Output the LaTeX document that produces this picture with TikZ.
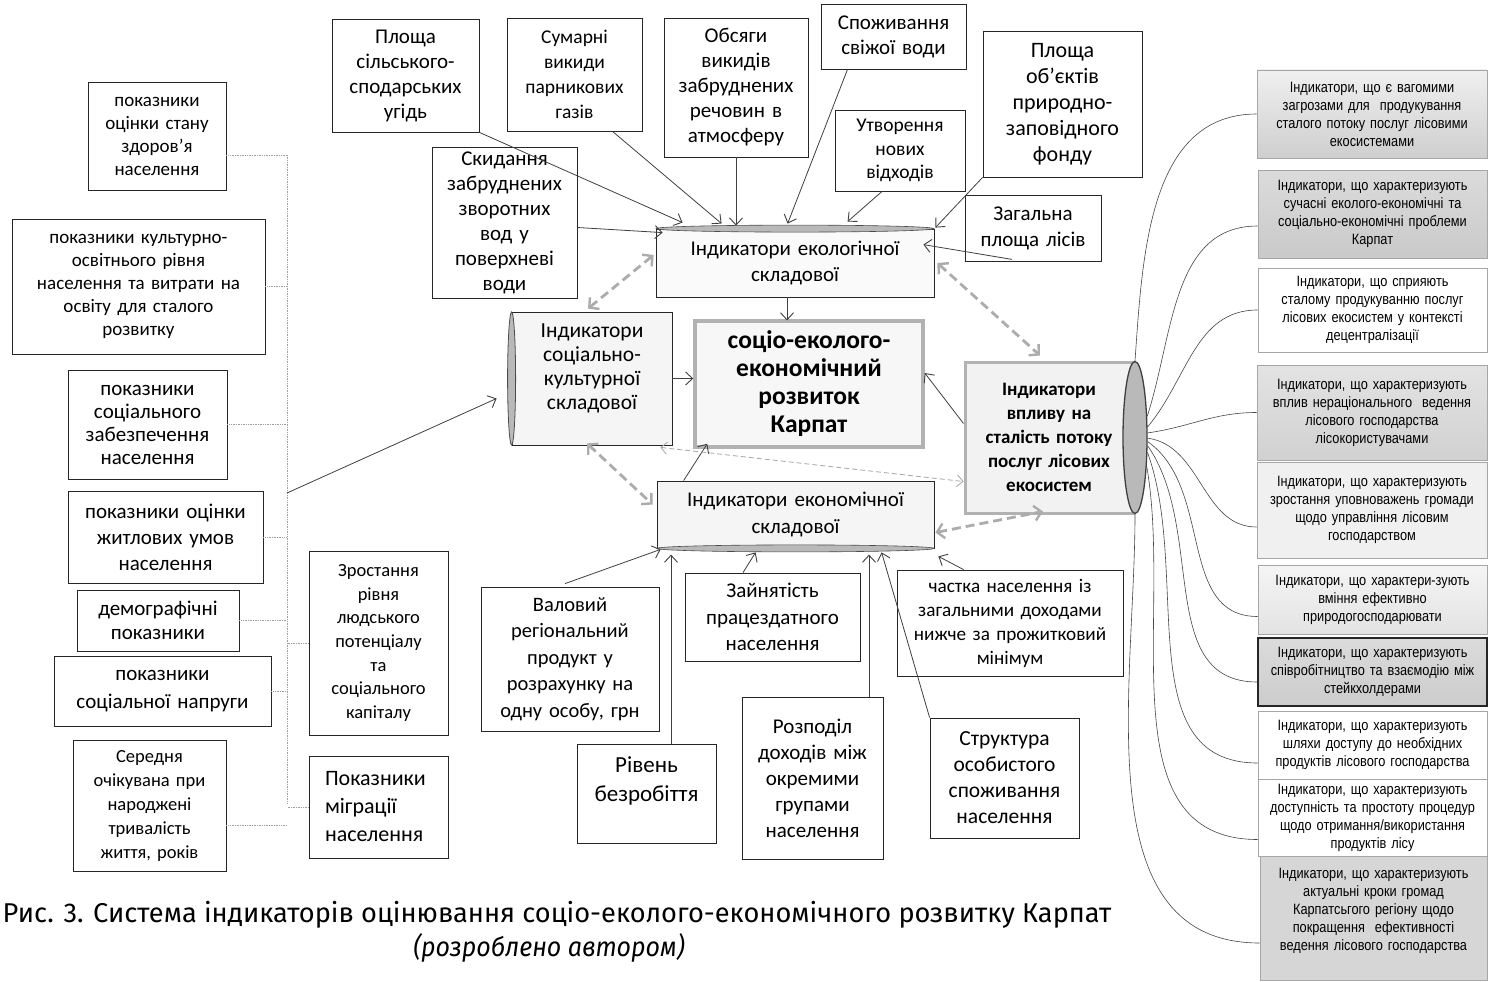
\documentclass[tikz,border=0pt]{standalone}
\usepackage{fontspec}
\setmainfont{Carlito}
\newfontfamily\narrowf{Liberation Sans}[FakeStretch=0.85]
\newfontfamily\capf{Fira Sans}
\newfontfamily\capfi{Fira Sans}[FakeStretch=0.92]
\usetikzlibrary{arrows.meta,shapes.geometric,calc}
\newcommand\fs[2]{\fontsize{#1}{#2}\selectfont}
\newcommand\bx[7][]{%
  \pgfmathsetmacro\bxw{#5-#3}\pgfmathsetmacro\bxh{#6-#4}%
  \pgfmathsetmacro\bxt{#5-#3-6}%
  \pgfmathsetmacro\bxx{(#3+#5)/2}\pgfmathsetmacro\bxy{(#4+#6)/2}%
  \node[box,minimum width=\bxw pt,minimum height=\bxh pt,text width=\bxt pt,#1] (#2) at (\bxx,\bxy) {#7};}
\tikzset{
  box/.style={draw=black!85,line width=0.8pt,fill=white,inner sep=0pt,align=center,
    font=\fs{21}{25}},
  rbox/.style={draw=gray!70,line width=0.7pt,font=\narrowf\fs{15}{18}},
  arr/.style={draw=black!75,line width=0.8pt,-{Straight Barb[length=7pt,width=13pt,line width=0.9pt]}},
  darr/.style={draw=gray!65,line width=2.8pt,dash pattern=on 9pt off 5pt,
    {Straight Barb[length=7pt,width=15pt,line width=2.4pt]}-{Straight Barb[length=7pt,width=15pt,line width=2.4pt]}},
  tdarr/.style={draw=gray!70,line width=0.8pt,dash pattern=on 5pt off 3pt,
    {Straight Barb[length=6pt,width=12pt,line width=0.8pt]}-{Straight Barb[length=6pt,width=12pt,line width=0.8pt]}},
  dot/.style={draw=gray!75,line width=0.7pt,densely dotted},
  curve/.style={draw=gray!55!black,line width=0.6pt},
}
\begin{document}
\begin{tikzpicture}[x=1pt,y=-1pt]
\useasboundingbox (0,0) rectangle (1488,982);
\fill[white] (0,0) rectangle (1488,982);
% ---------- left column ----------
\bx[font=\fs{19}{23}]{L1}{88}{82}{226}{190}{показники\\оцінки стану\\здоров'я\\населення}
\bx[font=\fs{19}{23}]{L2}{12}{219}{265}{354}{показники культурно-\\освітнього рівня\\населення та витрати на\\освіту для сталого\\розвитку}
\bx[font=\fs{21}{23}]{L3}{68}{370}{227}{479}{показники\\соціального\\забезпечення\\населення}
\bx[font=\fs{21}{26}]{L4}{68}{491}{263}{583}{показники оцінки\\житлових умов\\населення}
\bx[font=\fs{21}{24}]{L5}{77}{590}{239}{651}{демографічні\\показники}
\bx[font=\fs{21}{28}]{L6}{54}{656}{271}{726}{показники\\соціальної напруги}
\bx[font=\fs{18.5}{24}]{L7}{73}{740}{226}{871}{Середня\\очікувана при\\народжені\\тривалість\\життя, років}
\bx[font=\fs{18.5}{23.7}]{L8}{309}{551}{448}{735}{Зростання\\рівня\\людського\\потенціалу\\та\\соціального\\капіталу}
\bx[font=\fs{22}{28},align=left,text width=107pt]{L9}{309}{756}{448}{858}{Показники\\міграції\\населення}
\coordinate (busT) at (287,155);
\coordinate (busB) at (287,803);
\coordinate (busM) at (287,493);
\draw[dot] (busT) -- (busB);
\draw[dot] ([yshift=-19pt]L1.east) -- ([yshift=-19pt]L1.east -| busT);
\foreach \n in {L2,L3,L4,L5,L6}{\draw[dot] (\n.east) -- (\n.east -| busT);}
\draw[dot] ([yshift=-20pt]L7.east) -- ([yshift=-20pt]L7.east -| busT);
\draw[dot] (L8.west) -- (L8.west -| busT);
\draw[dot] (L9.west) -- (L9.west -| busT);
% ---------- top boxes ----------
\bx{T10}{332}{19}{479}{132}{Площа\\сільського-\\сподарських\\угідь}
\bx[font=\fs{19.5}{25}]{T11}{507}{18}{642}{131}{Сумарні\\викиди\\парникових\\газів}
\bx{T12}{664}{18}{808}{157}{Обсяги\\викидів\\забруднених\\речовин в\\атмосферу}
\bx{T13}{432}{147}{577}{298}{Скидання\\забруднених\\зворотних\\вод у\\поверхневі\\води}
\bx{T14}{821}{4}{966}{69}{Споживання\\свіжої води}
\bx[font=\fs{19.5}{23.5}]{T15}{835}{110}{965}{191}{Утворення\\нових\\відходів}
\bx[font=\fs{22}{26}]{T16}{983}{31}{1142}{177}{Площа\\об'єктів\\природно-\\заповідного\\фонду}
\bx[font=\fs{21}{26}]{T17}{965}{195}{1101}{261}{Загальна\\площа лісів}
% ---------- central ----------
\bx[fill=gray!4,font=\fs{21}{26}]{eco}{656}{229}{934}{297}{Індикатори екологічної\\складової}
\draw[fill=gray!55,draw=black!70,line width=0.6pt] (eco.north) ellipse [x radius=139pt,y radius=3.5pt];
\bx[fill=gray!8,font=\fs{21.5}{24}]{LC}{512}{312}{672}{445}{Індикатори\\соціально-\\культурної\\складової\\[0pt]\mbox{}}
\draw[fill=gray!55,draw=black!70,line width=0.8pt] (LC.west) ellipse [x radius=4pt,y radius=66.5pt];
\bx[fill=gray!6,draw=gray!60,line width=3.5pt,font=\bfseries\fs{25.5}{28}]{cen}{695}{321}{923}{447}{соціо-еколого-\\економічний\\розвиток\\Карпат}
\bx[fill=gray!8,font=\fs{21}{26.5}]{econ}{657}{481}{934}{548}{Індикатори економічної\\складової}
\draw[fill=gray!55,draw=black!70,line width=0.6pt] (econ.south) ellipse [x radius=138.5pt,y radius=3.5pt];
\bx[fill=gray!10,draw=gray!60,line width=3pt,font=\bfseries\fs{19}{24}]{RB}{965}{362}{1133}{513}{Індикатори\\впливу на\\сталість потоку\\послуг лісових\\екосистем}
\node[ellipse,minimum width=24pt,minimum height=152pt,inner sep=0pt,fill=gray!55,draw=black!75,line width=1.3pt] (RE) at (1135,437.5) {};
% ---------- bottom ----------
\bx[font=\fs{20.5}{26.5}]{Val}{481}{587}{659}{731}{Валовий\\регіональний\\продукт у\\розрахунку на\\одну особу, грн}
\bx[font=\fs{23}{29}]{Riv}{577}{744}{716}{843}{Рівень\\безробіття\\[0pt]\mbox{}}
\bx[font=\fs{21}{26.5}]{Zay}{685}{573}{860}{661}{Зайнятість\\працездатного\\населення}
\bx[font=\fs{21}{26}]{Roz}{742}{697}{883}{859}{Розподіл\\доходів між\\окремими\\групами\\населення}
\bx[font=\fs{19.2}{24}]{Cha}{897}{570}{1123}{676}{частка населення із\\загальними доходами\\нижче за прожитковий\\мінімум}
\bx[font=\fs{21.5}{26}]{Str}{930}{718}{1079}{838}{Структура\\особистого\\споживання\\населення}
% ---------- right column ----------
\bx[rbox,top color=gray!12,bottom color=gray!38]{R1}{1257}{70}{1487}{158}{Індикатори, що є вагомими\\загрозами для\ \ продукування\\сталого потоку послуг лісовими\\екосистемами}
\bx[rbox,top color=gray!28,bottom color=gray!42]{R2}{1258}{170}{1487}{258}{Індикатори, що характеризують\\сучасні еколого-економічні та\\соціально-економічні проблеми\\Карпат}
\bx[rbox]{R3}{1258}{268}{1487}{352}{Індикатори, що сприяють\\сталому продукуванню послуг\\лісових екосистем у контексті\\децентралізації}
\bx[rbox,top color=gray!22,bottom color=gray!36]{R4}{1257}{365}{1487}{460}{Індикатори, що характеризують\\вплив нераціонального\ \ ведення\\лісового господарства\\лісокористувачами}
\bx[rbox,fill=gray!12]{R5}{1257}{462}{1487}{558}{Індикатори, що характеризують\\зростання уповноважень громади\\щодо управління лісовим\\господарством}
\bx[rbox,top color=gray!8,bottom color=gray!22]{R6}{1258}{565}{1487}{634}{Індикатори, що характери-зують\\вміння ефективно\\природогосподарювати}
\bx[rbox,top color=gray!28,bottom color=gray!40,draw=black!85,line width=1.5pt]{R7}{1258}{638}{1487}{706}{Індикатори, що характеризують\\співробітництво та взаємодію між\\стейкхолдерами}
\bx[rbox]{R8}{1258}{711}{1487}{779}{Індикатори, що характеризують\\шляхи доступу до необхідних\\продуктів лісового господарства}
\bx[rbox]{R9}{1258}{779}{1487}{856}{Індикатори, що характеризують\\доступність та простоту процедур\\щодо отримання/використання\\продуктів лісу}
\bx[rbox,fill=gray!32]{R10}{1260}{856}{1487}{980}{Індикатори, що характеризують\\актуальні кроки громад\\Карпатсьгого регіону щодо\\покращення\ \ ефективності\\ведення лісового господарства\\[0pt]\mbox{}}
% ---------- curves to right column ----------
\draw[curve] (RE.north) to[out=86,in=180] (R1.west);
\draw[curve] (RE.60) to[out=72,in=180] ([yshift=-12pt]R2.west);
\draw[curve] (RE.40) to[out=50,in=180] (R3.west);
\draw[curve] (RE.20) to[out=8,in=180] (R4.west);
\draw[curve] (RE.-3) to[out=-8,in=180] ([yshift=-17pt]R5.west);
\draw[curve] (RE.-18) to[out=-35,in=180] ([yshift=-17pt]R6.west);
\draw[curve] (RE.-33) to[out=-55,in=180] ([yshift=-10pt]R7.west);
\draw[curve] (RE.-50) to[out=-70,in=180] ([yshift=-18pt]R8.west);
\draw[curve] (RE.-68) to[out=-80,in=180] ([yshift=-22pt]R9.west);
\draw[curve] (RE.south) to[out=-90,in=180] ([yshift=-25pt]R10.west);
% ---------- arrows into eco ----------
\draw[arr] (T10.south east) -- ($(eco.north west)+(27,-6)$);
\draw[arr] ([yshift=-5pt]T13.east) -- ($(eco.north west)+(7,4)$);
\draw[arr] ($(T11.south)+(38,0)$) -- ($(eco.north west)+(66,-5)$);
\draw[arr] (T12.south) -- ($(T12.south |- eco.north)+(0,-3)$);
\draw[arr] ($(T14.south)+(-46,0)$) -- ($(eco.north west)+(132,-5)$);
\draw[arr] ($(T15.south)+(-18,0)$) -- ($(eco.north west)+(192,-7)$);
\draw[arr] (T16.south west) -- ($(eco.north east)+(1,-1)$);
\draw[arr] ($(T17.south)+(-21,-2)$) -- ($(eco.north east)+(-11,16)$);
% ---------- arrows into centre ----------
\draw[arr] ($(eco.south)+(-8,0)$) -- ($(eco.south)+(-8,23)$);
\draw[arr] (LC.east) -- (LC.east -| cen.west);
\draw[arr] ($(econ.north west)+(27,0)$) -- ($(cen.south west)+(14,-5)$);
\draw[arr] ($(RB.west)+(0,-14)$) -- ($(cen.east)+(0,-11)$);
\draw[arr] (busM) -- ($(LC.west)+(-15,20)$);
% ---------- dashed links ----------
\draw[darr] ($(LC.north)+(-4,-3)$) -- ($(eco.west)+(-2,-8)$);
\draw[darr] ($(eco.east)+(3,0)$) -- ($(RB.north)+(-9,-5)$);
\draw[darr] ($(LC.south)+(-5,-2)$) -- ($(econ.west)+(-4,-10)$);
\draw[darr] ($(econ.east)+(1,18)$) -- ($(RB.south)+(-6,-3)$);
\draw[tdarr] ($(LC.south east)+(-12,2)$) -- ($(RB.west)+(0,44)$);
% ---------- arrows into econ ----------
\draw[arr] ($(Val.north)+(-5,-3)$) -- ($(econ.south west)+(4,1)$);
\draw[arr] ($(Riv.north)+(24.5,0)$) -- ($(Riv.north)+(24.5,-189)$);
\draw[arr] ($(Zay.north)+(-29.5,0)$) -- ($(econ.south west)+(99,4)$);
\draw[arr] ($(Roz.north)+(56.5,0)$) -- ($(Roz.north)+(56.5,-142)$);
\draw[arr] (Str.north west) -- ($(econ.south west)+(225,4)$);
\draw[arr] ($(Cha.north west)+(67,0)$) -- ($(econ.south east)+(4,8)$);
% ---------- caption ----------
\node[font=\capf\fs{27.2}{30},inner sep=0pt] (cap1) at (557,915) {Рис. 3. Система індикаторів оцінювання соціо-еколого-економічного розвитку Карпат};
\node[font=\capfi\itshape\fs{27.2}{30},inner sep=0pt] (cap2) at (549,948) {(розроблено автором)};
\end{tikzpicture}
\end{document}
